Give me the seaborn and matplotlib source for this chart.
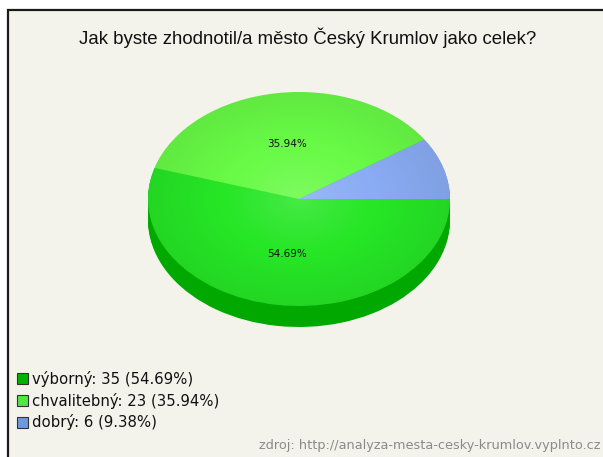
import numpy as np
import matplotlib
matplotlib.use("Agg")
import matplotlib.pyplot as plt
import seaborn as sns
from matplotlib.patches import Rectangle, Patch, Circle

# data
categories = ["výborný", "chvalitebný", "dobrý"]
counts = [35, 23, 6]
percents = [54.69, 35.94, 9.38]
title = "Jak byste zhodnotil/a město Český Krumlov jako celek?"
source = "zdroj: http://analyza-mesta-cesky-krumlov.vyplnto.cz"

sns.set_theme(style="white")
plt.rcParams["font.family"] = ["DejaVu Sans"]

top_colors = ["#26e626", "#68fa46", "#8aacf4"]
side_colors = ["#00a800", "#3fcc2a", "#5c7fc8"]
legend_colors = ["#00b400", "#50e844", "#7098e0"]

W, H = 603, 457
fig = plt.figure(figsize=(W / 100, H / 100), dpi=100)
fig.patch.set_facecolor("white")

# panel frame
fig.patches.append(Rectangle((8 / W, -0.1), 1, 1.1 - 10 / H, transform=fig.transFigure,
                             facecolor="#f4f3eb", edgecolor="#1a1a1a", linewidth=1.6,
                             zorder=-5))

# pie area: center (299,199) px, rx 151, ry 107, depth 21
ax = fig.add_axes([148 / W, 1 - 335 / H, 302 / W, 250 / H])
ax.set_zorder(2)
ax.patch.set_visible(False)
depth = 21 / 107

# side of the pie (stacked shifted pies)
for d in np.linspace(depth, 0.01, 14):
    ax.pie(counts, colors=side_colors, startangle=0, counterclock=False,
           center=(0, -d), wedgeprops=dict(linewidth=0))

# top surface
wedges, _, autotexts = ax.pie(counts, colors=top_colors, startangle=0, counterclock=False,
                              autopct="%.2f%%", pctdistance=0.52,
                              wedgeprops=dict(linewidth=0),
                              textprops=dict(fontsize=7.5, color="#111111"))
for t, p in zip(autotexts, percents):
    t.set_zorder(5)
    if p < 10:  # small slices carry no label in the original
        t.set_visible(False)

# soft radial shading (lighter center, darker rim)
yy, xx = np.mgrid[-1:1:300j, -1:1:300j]
rr = np.sqrt(xx ** 2 + yy ** 2)
s = 0.5 - rr
shade = np.zeros((300, 300, 4))
shade[..., :3] = np.where(s[..., None] > 0, 1.0, 0.0)
shade[..., 3] = np.clip(np.where(s > 0, 0.3 * s, -0.14 * s), 0, 1)
clip = Circle((0, 0), 1, transform=ax.transData)
ax.imshow(shade, extent=(-1, 1, -1, 1), origin="lower", zorder=2, clip_path=clip,
          interpolation="bilinear")

ax.set_xlim(-1, 1)
ax.set_ylim(-(335 - 199) / 107, (199 - 85) / 107)
ax.set_aspect("auto")
ax.axis("off")

# title
fig.text(308 / W, 1 - 38 / H, title, ha="center", va="center", fontsize=13.4,
         family="Liberation Sans", color="#111111")

# legend
handles = [Patch(facecolor=c, edgecolor="#333333", linewidth=0.8) for c in legend_colors]
labels = [f"{c}: {n} ({p:.2f}%)" for c, n, p in zip(categories, counts, percents)]
fig.legend(handles, labels, loc="upper left", bbox_to_anchor=(17 / W, 1 - 371 / H),
           frameon=False, fontsize=10.7, handlelength=0.75, handleheight=0.75,
           handletextpad=0.25, labelspacing=0.38, borderaxespad=0, borderpad=0,
           labelcolor="#111111")

# source
fig.text(600 / W, 1 - 446 / H, source, ha="right", va="center", fontsize=9.3, color="#8a8a8a")

fig.savefig("out.png", dpi=100, facecolor=fig.get_facecolor())
